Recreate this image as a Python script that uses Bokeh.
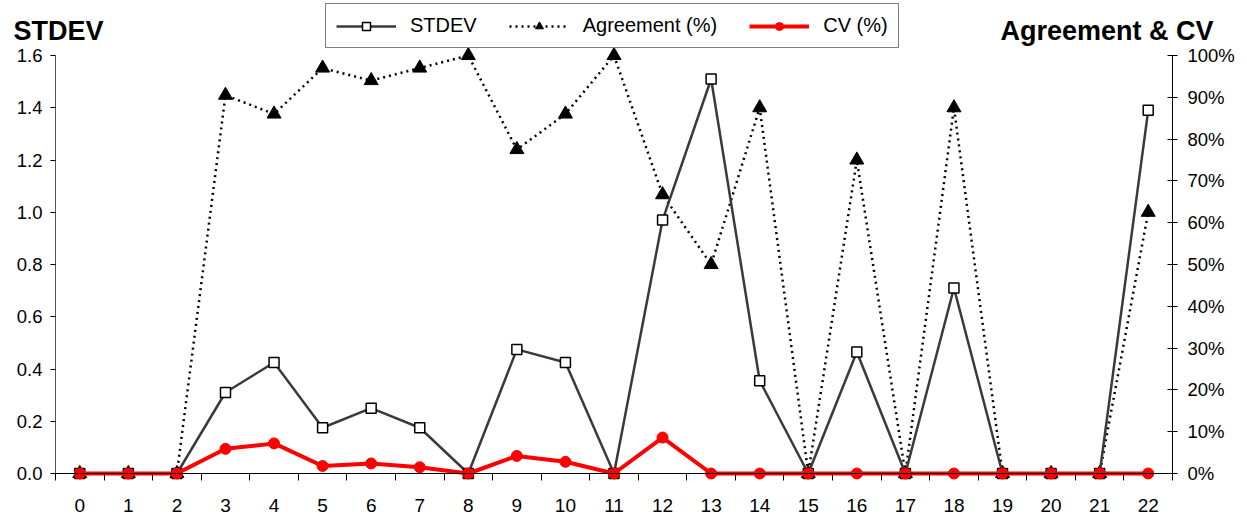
from bokeh.plotting import figure
from bokeh.models import (Range1d, LinearAxis, FixedTicker, NumeralTickFormatter,
                          Legend, LegendItem, Label)
from bokeh.embed import file_html
from bokeh.resources import INLINE

# ---- data ----
categories = list(range(23))
stdev = [0, 0, 0, 0.31, 0.425, 0.175, 0.25, 0.175, 0, 0.475, 0.425, 0, 0.97, 1.51,
         0.355, 0, 0.465, 0, 0.71, 0, 0, 0, 1.39]
agreement = [0, 0, 0, 90.5, 86, 97, 94, 97, 100, 77.5, 86, 100, 66.7, 50, 87.5, 0,
             75, 0, 87.5, 0, 0, 0, 62.5]
cv = [0, 0, 0, 5.9, 7.2, 1.8, 2.4, 1.5, 0, 4.2, 2.8, 0, 8.6, 0, 0, 0, 0, 0, 0, 0,
      0, 0, 0]
left_ticks = [0, 0.2, 0.4, 0.6, 0.8, 1.0, 1.2, 1.4, 1.6]
right_ticks = [0, 10, 20, 30, 40, 50, 60, 70, 80, 90, 100]
x_labels = {c: str(c) for c in categories}

FONT = "Liberation Sans"

# ---- geometry (canvas pixels) ----
W, H = 1247, 518
PL, PR, PT, PB = 55, 1172, 55, 473     # plot-area edges
left_max, right_max = 1.6, 100.0
n = len(categories)
xk = n / (PR - PL)                     # data units per px (x)
lk = left_max / (PB - PT)
rk = right_max / (PB - PT)
x0 = -0.5 - PL * xk
x1 = n - 0.5 + (W - PR) * xk
px_x = lambda px: x0 + px * xk
px_y = lambda py: left_max + (PT - py) * lk

p = figure(width=W, height=H, output_backend="svg", toolbar_location=None,
           x_range=Range1d(x0, x1),
           y_range=Range1d(-(H - PB) * lk, left_max + PT * lk),
           min_border_left=0, min_border_right=0, min_border_top=0,
           min_border_bottom=0, x_axis_location=None, y_axis_location=None)
p.outline_line_color = None
p.grid.visible = False
p.background_fill_color = "white"
p.border_fill_color = "white"
p.extra_y_ranges = {"pct": Range1d(-(H - PB) * rk, right_max + PT * rk)}

# category axis
xaxis = LinearAxis(fixed_location=0, bounds=(-0.5, n - 0.5),
                   ticker=FixedTicker(ticks=categories,
                                      minor_ticks=[c - 0.5 for c in categories] + [n - 0.5]),
                   major_label_overrides=x_labels)
xaxis.major_tick_in = 0
xaxis.major_tick_out = 0
xaxis.major_tick_line_color = None
xaxis.minor_tick_in = 0
xaxis.minor_tick_out = 7
xaxis.minor_tick_line_color = "black"
xaxis.major_label_standoff = 18
xaxis.major_label_text_font = FONT
xaxis.major_label_text_font_size = "19px"
xaxis.major_label_text_color = "black"
xaxis.axis_line_color = "black"
p.add_layout(xaxis, "below")

yaxis = LinearAxis(fixed_location=-0.5, bounds=(0, left_max),
                   ticker=FixedTicker(ticks=left_ticks, minor_ticks=[]),
                   formatter=NumeralTickFormatter(format="0.0"))
yaxis.major_tick_in = 0
yaxis.major_tick_out = 5
yaxis.major_label_standoff = 8
yaxis.major_label_text_font = FONT
yaxis.major_label_text_font_size = "18.5px"
yaxis.major_label_text_color = "black"
yaxis.axis_line_color = "#555555"
yaxis.major_tick_line_color = "black"
p.add_layout(yaxis, "left")

raxis = LinearAxis(y_range_name="pct", fixed_location=n - 0.5, bounds=(0, right_max),
                   ticker=FixedTicker(ticks=right_ticks, minor_ticks=[]),
                   major_label_overrides={t: f"{t}%" for t in right_ticks})
raxis.major_tick_in = 5
raxis.major_tick_out = 5
raxis.major_label_standoff = 10
raxis.major_label_text_font = FONT
raxis.major_label_text_font_size = "18.5px"
raxis.major_label_text_color = "black"
raxis.axis_line_color = "black"
raxis.major_tick_line_color = "black"
p.add_layout(raxis, "right")

# series
ag_l = p.line(categories, agreement, y_range_name="pct", line_color="black",
              line_width=2.5, line_dash="2 4")
ag_m = p.scatter(categories, agreement, y_range_name="pct", marker="triangle",
                 size=14, fill_color="black", line_color="black")
sd_l = p.line(categories, stdev, line_color="#3a3a3a", line_width=2.5)
sd_m = p.scatter(categories, stdev, marker="square", size=10, fill_color="white",
                 line_color="black", line_width=1.5)
cv_l = p.line(categories, cv, y_range_name="pct", line_color="#ff0000", line_width=4)
cv_m = p.scatter(categories, cv, y_range_name="pct", marker="circle", size=11,
                 fill_color="#ff0000", line_color="#ff0000")

legend = Legend(items=[LegendItem(label="STDEV", renderers=[sd_l, sd_m]),
                       LegendItem(label="Agreement (%)", renderers=[ag_l, ag_m]),
                       LegendItem(label="CV (%)", renderers=[cv_l, cv_m])],
                orientation="horizontal", location=(325, H - 48),
                glyph_width=60, glyph_height=20, label_standoff=14, spacing=32,
                padding=10, margin=0,
                label_text_font=FONT, label_text_font_size="20px",
                label_text_color="black",
                border_line_color="black", border_line_width=1,
                background_fill_color="white", background_fill_alpha=1.0)
p.add_layout(legend, "center")

p.add_layout(Label(x=px_x(13), y=px_y(30), text="STDEV", text_font=FONT,
                   text_font_size="27px", text_font_style="bold", text_color="black",
                   text_baseline="alphabetic", text_align="left"))
p.add_layout(Label(x=px_x(1213), y=px_y(30), text="Agreement & CV", text_font=FONT,
                   text_font_size="27px", text_font_style="bold", text_color="black",
                   text_baseline="alphabetic", text_align="right"))

open("out.html", "w").write(file_html(p, INLINE))
